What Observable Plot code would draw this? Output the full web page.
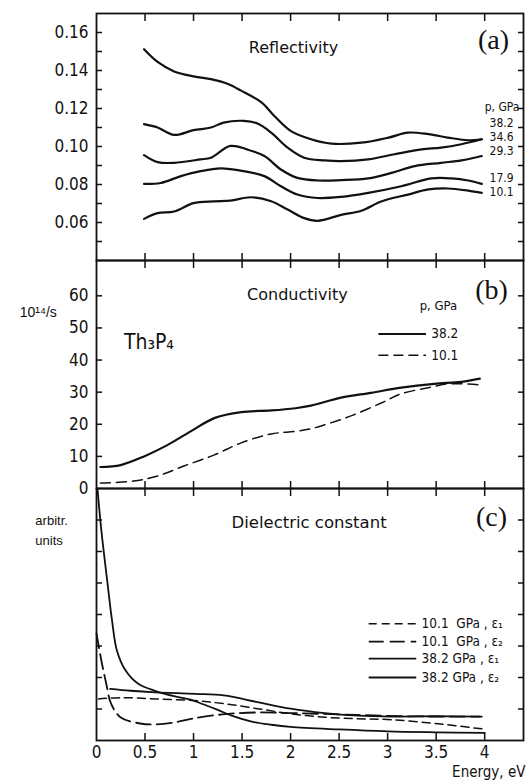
<!DOCTYPE html>
<html><head><meta charset="utf-8">
<script src="https://cdn.jsdelivr.net/npm/d3@7"></script>
<script src="https://cdn.jsdelivr.net/npm/@observablehq/plot@0.6"></script>
<style>
body{margin:0;background:#fff;}
#wrap{position:relative;width:527px;height:780px;overflow:hidden;}
#wrap > div{position:absolute;left:0;}
#wrap svg{overflow:visible;background:transparent;}
</style></head><body><div id="wrap"></div><script>
// ---------- data ----------
// Energy (eV) axis ticks
const energyTicks = [0.5, 1, 1.5, 2, 2.5, 3, 3.5, 4];
const energyLabels = [0, 0.5, 1, 1.5, 2, 2.5, 3, 3.5, 4];

// (a) Reflectivity, [energy eV, R]
const refl382 = [[0.49,0.1512],[0.63,0.1445],[0.80,0.1395],[1.00,0.1369],[1.20,0.1352],[1.35,0.1330],[1.49,0.1294],[1.70,0.1232],[1.83,0.1162],[2.00,0.1082],[2.21,0.1038],[2.42,0.1015],[2.73,0.1020],[3.01,0.1047],[3.21,0.1073],[3.42,0.1065],[3.62,0.1047],[3.83,0.1033],[3.97,0.1038]];
const refl346 = [[0.49,0.1118],[0.63,0.1100],[0.80,0.1061],[1.00,0.1086],[1.18,0.1100],[1.31,0.1126],[1.52,0.1135],[1.66,0.1121],[1.80,0.1073],[1.97,0.0994],[2.14,0.0941],[2.35,0.0927],[2.52,0.0923],[2.80,0.0932],[3.07,0.0959],[3.35,0.0985],[3.55,0.0994],[3.76,0.1012],[3.97,0.1038]];
const refl293 = [[0.49,0.0955],[0.63,0.0918],[0.80,0.0914],[1.07,0.0932],[1.18,0.0941],[1.38,0.1003],[1.55,0.0985],[1.73,0.0950],[1.90,0.0879],[2.07,0.0835],[2.28,0.0821],[2.52,0.0823],[2.80,0.0832],[3.04,0.0861],[3.28,0.0897],[3.55,0.0914],[3.76,0.0927],[3.97,0.0950]];
const refl179 = [[0.49,0.0803],[0.66,0.0808],[0.87,0.0844],[1.07,0.0870],[1.28,0.0885],[1.52,0.0870],[1.73,0.0844],[1.90,0.0791],[2.07,0.0747],[2.28,0.0729],[2.52,0.0735],[2.80,0.0756],[3.14,0.0791],[3.45,0.0832],[3.66,0.0832],[3.83,0.0821],[3.97,0.0803]];
const refl101 = [[0.49,0.0619],[0.63,0.0649],[0.80,0.0658],[1.00,0.0702],[1.21,0.0711],[1.38,0.0715],[1.59,0.0733],[1.80,0.0712],[1.97,0.0668],[2.14,0.0623],[2.28,0.0609],[2.52,0.0640],[2.73,0.0662],[2.94,0.0712],[3.21,0.0747],[3.42,0.0774],[3.62,0.0779],[3.83,0.0768],[3.97,0.0756]];
const reflPressures = ["38.2", "34.6", "29.3", "17.9", "10.1"];
const reflTicks = [0.05,0.06,0.07,0.08,0.09,0.10,0.11,0.12,0.13,0.14,0.15,0.16];
const reflLabels = [0.06,0.08,0.10,0.12,0.14,0.16];

// (b) Conductivity, [energy eV, sigma in 10^14/s]
const cond382 = [[0.04,6.7],[0.25,7.3],[0.49,10],[0.73,13.5],[0.97,17.8],[1.22,22],[1.49,23.8],[1.80,24.3],[2.05,25],[2.21,25.8],[2.52,28.3],[2.83,29.8],[3.14,31.4],[3.48,32.6],[3.76,33.2],[3.95,34.2]];
const cond101 = [[0.04,1.7],[0.38,2.3],[0.63,3.9],[0.90,7],[1.21,10.4],[1.49,14.2],[1.80,17],[2.05,17.8],[2.21,18.6],[2.39,20.2],[2.63,22.7],[2.94,26.7],[3.14,29.5],[3.42,31.4],[3.63,32.6],[3.94,32.3]];
const condTicks = [10,20,30,40,50,60];
const condLabels = [0,10,20,30,40,50,60];

// (c) Dielectric constant, arbitrary units, [energy eV, value]
const eps1_101 = [[0.02,1.32],[0.26,1.36],[0.60,1.32],[0.99,1.27],[1.31,1.17],[1.66,1.01],[2.00,0.85],[2.35,0.74],[2.69,0.69],[3.04,0.66],[3.52,0.53],[3.97,0.37]];
const eps2_101 = [[0.00,3.40],[0.05,2.54],[0.10,1.81],[0.15,1.17],[0.25,0.73],[0.45,0.54],[0.60,0.51],[0.80,0.57],[1.00,0.70],[1.30,0.83],[1.65,0.89],[2.00,0.87],[2.50,0.83],[3.00,0.78],[3.50,0.76],[3.95,0.76]];
const eps1_382 = [[0.14,1.64],[0.35,1.58],[0.61,1.53],[1.02,1.48],[1.31,1.43],[1.66,1.22],[2.00,1.01],[2.35,0.87],[2.69,0.79],[3.04,0.76],[3.50,0.77],[3.97,0.76]];
const eps2_382 = [[0.01,8.0],[0.05,6.67],[0.11,5.08],[0.16,3.81],[0.21,2.86],[0.30,2.22],[0.43,1.80],[0.61,1.57],[0.81,1.40],[0.97,1.30],[1.10,1.15],[1.25,0.97],[1.40,0.78],[1.60,0.60],[1.80,0.50],[2.00,0.43],[2.50,0.35],[3.00,0.29],[3.50,0.26],[4.00,0.24]];
const dielTicks = [1,2,3,4,5,6,7];
const dielLegend = ["10.1  GPa , ε\u2081", "10.1  GPa , ε\u2082", "38.2 GPa , ε\u2081", "38.2 GPa , ε\u2082"];

// ---------- drawing ----------
const W = 527, ML = 96, MR = 4;
const SANS = "'DejaVu Sans Condensed', 'DejaVu Sans', sans-serif";
const SERIF = "'Liberation Serif', 'DejaVu Serif', serif";
const xDomain = [0, 4.4];
const style = {background: "transparent", overflow: "visible", color: "#111", fontFamily: SANS};
const X = d => d[0], Y = d => d[1];
const CURVE = "catmull-rom";

function frameTicks(yTicks) {
  const sw = 1.5;
  return [
    Plot.frame({strokeWidth: 1.8}),
    Plot.axisY(yTicks, {anchor: "left", tickSize: 6, dx: 6, tickFormat: () => "", label: null, strokeWidth: sw}),
    Plot.axisY(yTicks, {anchor: "right", tickSize: 6, dx: -6, tickFormat: () => "", label: null, strokeWidth: sw}),
    Plot.axisX(energyTicks, {anchor: "top", tickSize: 7, dy: 7, tickFormat: () => "", label: null, strokeWidth: sw}),
    Plot.axisX(energyTicks, {anchor: "bottom", tickSize: 7, dy: -7, tickFormat: () => "", label: null, strokeWidth: sw})
  ];
}

// Panel (a)
const reflSeries = [refl382, refl346, refl293, refl179, refl101];
const reflLabelY = [0.1125, 0.1051, 0.0976, 0.0833, 0.0759];
const pa = Plot.plot({
  width: W, height: 260, marginLeft: ML, marginRight: MR, marginTop: 13, marginBottom: 0,
  x: {domain: xDomain}, y: {domain: [0.04, 0.17]}, style,
  marks: [
    ...frameTicks(reflTicks),
    Plot.axisY(reflLabels, {anchor: "left", tickSize: 0, tickPadding: 8, fontSize: 17, tickFormat: d => d.toFixed(2), label: null}),
    ...reflSeries.map(s => Plot.line(s, {x: X, y: Y, curve: CURVE, strokeWidth: 2.2})),
    Plot.text(["Reflectivity"], {x: 2.03, y: 0.1517, fontSize: 16, fontFamily: "'DejaVu Sans', sans-serif"}),
    Plot.text(["(a)"], {x: 4.09, y: 0.1559, fontSize: 28, fontFamily: SERIF}),
    Plot.text(["p, GPa"], {x: 4.0, y: 0.1206, fontSize: 12, textAnchor: "start"}),
    Plot.text(reflPressures, {x: 4.05, y: (d, i) => reflLabelY[i], fontSize: 12, textAnchor: "start"})
  ]
});

// Panel (b)
const pb = Plot.plot({
  width: W, height: 228, marginLeft: ML, marginRight: MR, marginTop: 0, marginBottom: 0,
  x: {domain: xDomain}, y: {domain: [0, 71]}, style,
  marks: [
    ...frameTicks(condTicks),
    Plot.axisY(condLabels, {anchor: "left", tickSize: 0, tickPadding: 8, fontSize: 17, tickFormat: d => String(d), label: null}),
    Plot.line(cond382, {x: X, y: Y, curve: CURVE, strokeWidth: 2.2}),
    Plot.line(cond101, {x: X, y: Y, curve: CURVE, strokeWidth: 1.5, strokeDasharray: "10,6"}),
    Plot.text(["Conductivity"], {x: 2.07, y: 60.3, fontSize: 16, fontFamily: "'DejaVu Sans', sans-serif"}),
    Plot.text(["(b)"], {x: 4.07, y: 61.7, fontSize: 28, fontFamily: SERIF}),
    Plot.text(["10\u00B9\u2074/s"], {x: -0.6, y: 54.8, fontSize: 14, fontFamily: "'Liberation Sans', Arial, sans-serif"}),
    Plot.text(["Th\u2083P\u2084"], {x: 0.54, y: 45.5, fontSize: 21}),
    Plot.text(["p, GPa"], {x: 3.33, y: 57.0, fontSize: 13, textAnchor: "start"}),
    Plot.ruleY([48.1], {x1: 2.91, x2: 3.40, strokeWidth: 2}),
    Plot.ruleY([41.5], {x1: 2.91, x2: 3.40, strokeWidth: 1.5, strokeDasharray: "10,5"}),
    Plot.text(["38.2", "10.1"], {x: 3.45, y: (d, i) => [48.1, 41.5][i], fontSize: 13.5, textAnchor: "start"})
  ]
});

// Panel (c)
const dielSeries = [eps1_101, eps2_101, eps1_382, eps2_382];
const dielDash = ["8,5", "15,6", null, null];
const dielWidth = [1.5, 1.8, 1.8, 1.8];
const dielLegY = [3.71, 3.14, 2.60, 2.0];
const pc = Plot.plot({
  width: W, height: 292, marginLeft: ML, marginRight: MR, marginTop: 0, marginBottom: 40,
  x: {domain: xDomain}, y: {domain: [0, 8]}, style,
  marks: [
    ...frameTicks(dielTicks),
    Plot.axisX(energyLabels, {anchor: "bottom", tickSize: 0, tickPadding: 5, fontSize: 17, tickFormat: d => String(d), label: null}),
    ...dielSeries.map((s, i) => Plot.line(s, {x: X, y: Y, curve: CURVE, strokeWidth: dielWidth[i], strokeDasharray: dielDash[i]})),
    ...dielLegend.map((t, i) => Plot.ruleY([dielLegY[i]], {x1: 2.81, x2: 3.30, strokeWidth: dielWidth[i], strokeDasharray: dielDash[i]})),
    Plot.text(dielLegend, {x: 3.35, y: (d, i) => dielLegY[i], fontSize: 13.5, textAnchor: "start"}),
    Plot.text(["Dielectric constant"], {x: 2.19, y: 6.92, fontSize: 16.5, fontFamily: "'DejaVu Sans', sans-serif"}),
    Plot.text(["(c)"], {x: 4.07, y: 7.08, fontSize: 28, fontFamily: SERIF}),
    Plot.text(["arbitr.", "units"], {x: -0.63, y: (d, i) => [6.98, 6.35][i], fontSize: 13, textAnchor: "start", fontFamily: "'Liberation Sans', Arial, sans-serif"}),
    Plot.text(["Energy, eV"], {x: 4.42, y: -1.02, fontSize: 15, textAnchor: "end"})
  ]
});

const wrap = document.getElementById("wrap");
[[pa, 0], [pb, 260], [pc, 488]].forEach(([svg, top]) => {
  const d = document.createElement("div");
  d.style.top = top + "px";
  d.appendChild(svg);
  wrap.appendChild(d);
});
</script></body></html>
